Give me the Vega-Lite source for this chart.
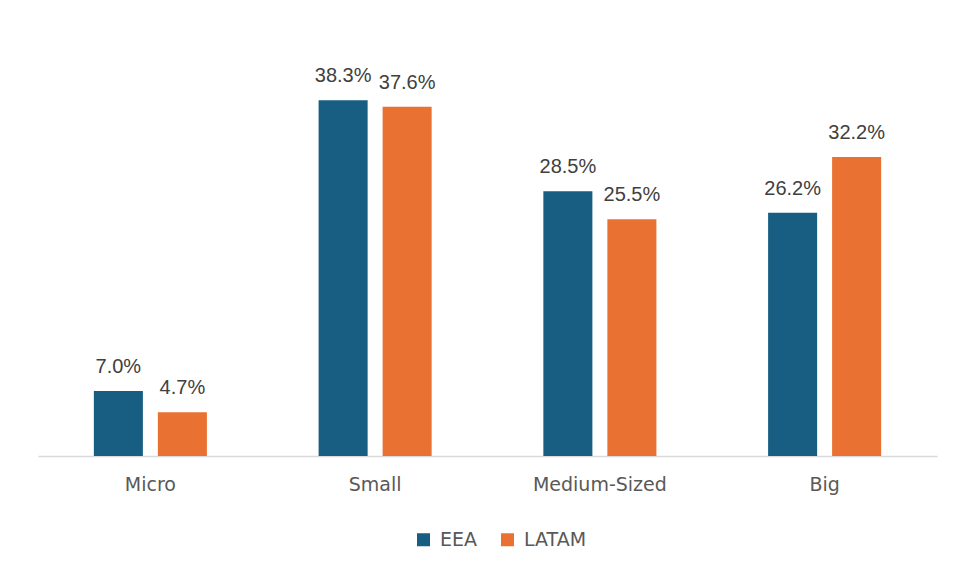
{
  "$schema": "https://vega.github.io/schema/vega-lite/v6.json",
  "autosize": "none",
  "width": 899,
  "height": 418,
  "padding": {"left": 38, "top": 38, "right": 17, "bottom": 117},
  "background": "white",
  "config": {"view": {"stroke": null}, "font": "Liberation Sans"},
  "data": {
    "values": [
      {"size": "Micro", "region": "EEA", "share": 0.070},
      {"size": "Micro", "region": "LATAM", "share": 0.047},
      {"size": "Small", "region": "EEA", "share": 0.383},
      {"size": "Small", "region": "LATAM", "share": 0.376},
      {"size": "Medium-Sized", "region": "EEA", "share": 0.285},
      {"size": "Medium-Sized", "region": "LATAM", "share": 0.255},
      {"size": "Big", "region": "EEA", "share": 0.262},
      {"size": "Big", "region": "LATAM", "share": 0.322}
    ]
  },
  "encoding": {
    "x": {
      "field": "size", "type": "nominal", "sort": ["Micro", "Small", "Medium-Sized", "Big"],
      "scale": {"paddingInner": 0.497, "paddingOuter": 0.2485},
      "axis": {"title": null, "labelAngle": 0, "ticks": false, "domainColor": "#d9d9d9", "domainWidth": 1.5,
               "labelFontSize": 19, "labelColor": "#595959", "labelPadding": 19, "labelFont": "DejaVu Sans", "grid": false}
    },
    "xOffset": {"field": "region", "type": "nominal", "scale": {"paddingInner": 0.234, "paddingOuter": 0}},
    "y": {"field": "share", "type": "quantitative", "scale": {"domain": [0, 0.45]}, "axis": null}
  },
  "layer": [
    {
      "mark": {"type": "bar"},
      "encoding": {
        "color": {
          "field": "region", "type": "nominal",
          "scale": {"domain": ["EEA", "LATAM"], "range": ["#175E82", "#E97132"]},
          "legend": {"title": null, "orient": "none", "legendX": 376, "legendY": 492, "direction": "horizontal", "symbolType": "square",
                     "symbolSize": 169, "symbolStrokeWidth": 0, "labelFontSize": 19, "labelColor": "#595959",
                     "labelFont": "DejaVu Sans", "columnPadding": 20, "labelOffset": 7}
        }
      }
    },
    {
      "mark": {"type": "text", "baseline": "alphabetic", "dy": -18, "fontSize": 20, "color": "#404040"},
      "encoding": {"text": {"field": "share", "type": "quantitative", "format": ".1%"}}
    }
  ]
}
